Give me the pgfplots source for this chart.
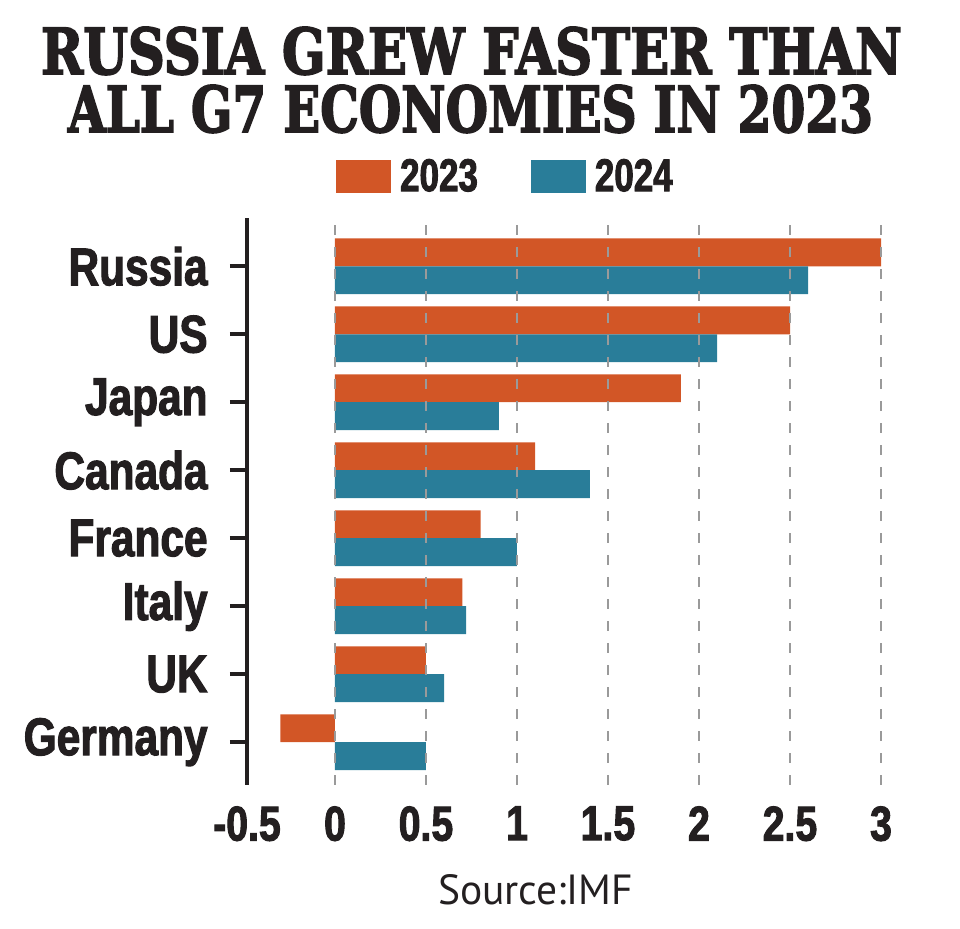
\documentclass[border=0pt]{standalone}
\usepackage{graphicx}
\usepackage{fontspec}
\usepackage{pgfplots}
\pgfplotsset{compat=1.18}
\newfontfamily\labelfont[FakeStretch=0.8, FakeBold=2]{Liberation Sans Bold}
\newfontfamily\legfont[FakeStretch=0.76, FakeBold=2]{Liberation Sans Bold}
\newfontfamily\titlefont[FakeBold=3]{DejaVu Serif Bold}
\newfontfamily\srcfont{PT Sans}
\definecolor{c23}{HTML}{D25626}
\definecolor{c24}{HTML}{297D99}
\definecolor{ink}{HTML}{231F20}
\definecolor{gridc}{HTML}{9A9A9A}
\begin{document}
\begin{tikzpicture}
\path[use as bounding box] (0,0) rectangle (480pt,464pt);
\node[anchor=base, inner sep=0pt, text=ink] at (235.75pt,427pt)
  {\resizebox{430.5pt}{23.5pt}{\titlefont RUSSIA GREW FASTER THAN}};
\node[anchor=base, inner sep=0pt, text=ink] at (235.25pt,398pt)
  {\resizebox{402.5pt}{23.5pt}{\titlefont ALL G7 ECONOMIES IN 2023}};
\node[anchor=base, inner sep=0pt, text=ink] at (267.75pt,11.5pt)
  {\resizebox{97.5pt}{15pt}{\srcfont Source:IMF}};
\begin{axis}[
  at={(123.5pt,71.5pt)}, anchor=south west,
  scale only axis, width=317pt, height=283.5pt,
  xbar, bar width=0.41,
  xmin=-0.4835, xmax=3, ymin=-0.63, ymax=7.71,
  axis lines*=left,
  x axis line style={draw=none},
  y axis line style={line width=2pt, ink},
  xtick={-0.4835,0,0.5,1,1.5,2,2.5,3},
  xticklabels={-0.5,0,0.5,1,1.5,2,2.5,3},
  xtick style={draw=none},
  ytick={0,1,2,3,4,5,6,7},
  yticklabels={Germany,UK,Italy,France,Canada,Japan,US,Russia},
  ytick style={line width=2pt, ink},
  tick align=outside, major tick length=8.5pt,
  xmajorgrids, grid style={gridc, line width=1pt, dash pattern=on 5pt off 6pt},
  axis on top,
  xticklabel style={font=\labelfont\fontsize{24.5}{24.5}\selectfont, text=ink, anchor=north, inner sep=0pt, yshift=-2pt},
  yticklabel style={font=\labelfont\fontsize{26.5}{26.5}\selectfont, text=ink, anchor=east, inner sep=0pt, xshift=-11pt},
  legend columns=2,
  legend style={at={(0.406,1.073)}, anchor=center, draw=none, fill=none, inner sep=0pt,
    font=\legfont\fontsize{23}{23}\selectfont, text=ink,
    /tikz/every even column/.append style={column sep=26.5pt},
    nodes={inner sep=0pt, text=ink}},
]
\addplot[fill=c23, draw=none, bar shift=0.205,
  legend image code/.code={\fill[c23] (0pt,-8.25pt) rectangle (27.5pt,8.25pt);}]
  coordinates {(-0.3,0) (0.5,1) (0.7,2) (0.8,3) (1.1,4) (1.9,5) (2.5,6) (3.0,7)};
\addlegendentry{\hspace{4.5pt}2023}
\addplot[fill=c24, draw=none, bar shift=-0.205,
  legend image code/.code={\fill[c24] (0pt,-8.25pt) rectangle (27.5pt,8.25pt);}]
  coordinates {(0.5,0) (0.6,1) (0.72,2) (1.0,3) (1.4,4) (0.9,5) (2.1,6) (2.6,7)};
\addlegendentry{\hspace{4.5pt}2024}
\end{axis}
\end{tikzpicture}
\end{document}
